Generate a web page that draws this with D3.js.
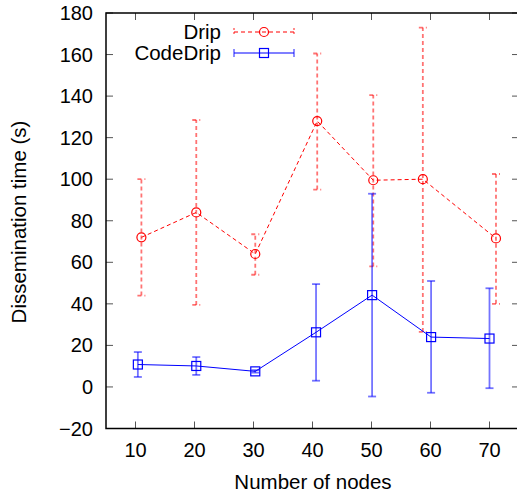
<!DOCTYPE html>
<html>
<head>
<meta charset="utf-8">
<script src="https://cdn.jsdelivr.net/npm/d3@7"></script>
<style>
  body { margin: 0; background: #fff; }
  svg { display: block; font-family: "Liberation Sans", Arial, sans-serif; }
</style>
</head>
<body>
<div id="chart"></div>
<script>
// Values
var seriesNames = ["Drip", "CodeDrip"];
var dripX = [11.0, 20.3, 30.3, 40.8, 50.3, 58.7, 71.1];
var dripY = [72, 84, 64, 128, 99.5, 100, 71.5];
var dripLow = [44, 39.5, 54, 95, 58, 26.5, 40];
var dripHigh = [100, 128.5, 73.5, 160.5, 140.5, 173, 102.5];
var codeX = [10.4, 20.3, 30.3, 40.6, 50.1, 60.1, 70];
var codeY = [10.8, 10.1, 7.5, 26.3, 44.2, 24, 23.3];
var codeLow = [4.8, 5.8, 6.9, 3, -4.6, -2.8, -0.6];
var codeHigh = [16.8, 14.4, 8.1, 49.5, 93, 51, 47.5];
var xTicks = [10, 20, 30, 40, 50, 60, 70];
var yTicks = [-20, 0, 20, 40, 60, 80, 100, 120, 140, 160, 180];

var width = 517, height = 496;
var plotLeft = 106, plotRight = 519, plotTop = 13, plotBottom = 428.5;
var fontSize = 20;

var svg = d3.select("#chart").append("svg")
  .attr("width", width)
  .attr("height", height);

var x = d3.scaleLinear().domain([5, 75]).range([plotLeft, plotRight]);
var y = d3.scaleLinear().domain([-20, 180]).range([plotBottom, plotTop]);

// tick marks on all four sides (pointing inward)
var tickLen = 7;
var ticks = svg.append("g").attr("stroke", "#555").attr("stroke-width", 1);
xTicks.forEach(function (t) {
  ticks.append("line").attr("x1", x(t)).attr("x2", x(t)).attr("y1", plotBottom).attr("y2", plotBottom - tickLen);
  ticks.append("line").attr("x1", x(t)).attr("x2", x(t)).attr("y1", plotTop).attr("y2", plotTop + tickLen);
});
yTicks.forEach(function (t) {
  ticks.append("line").attr("x1", plotLeft).attr("x2", plotLeft + tickLen).attr("y1", y(t)).attr("y2", y(t));
  ticks.append("line").attr("x1", plotRight).attr("x2", plotRight - tickLen).attr("y1", y(t)).attr("y2", y(t));
});

// tick labels
svg.append("g").selectAll("text")
  .data(yTicks)
  .enter().append("text")
  .attr("x", 93)
  .attr("y", function (d) { return y(d); })
  .attr("dy", "0.35em")
  .attr("text-anchor", "end")
  .attr("font-size", fontSize)
  .text(function (d) { return d < 0 ? "\u2212" + Math.abs(d) : d; });

svg.append("g").selectAll("text")
  .data(xTicks)
  .enter().append("text")
  .attr("x", function (d) { return x(d); })
  .attr("y", 450)
  .attr("dy", "0.35em")
  .attr("text-anchor", "middle")
  .attr("font-size", fontSize)
  .text(function (d) { return d; });

// axis titles
svg.append("text")
  .attr("x", 313)
  .attr("y", 482)
  .attr("dy", "0.35em")
  .attr("text-anchor", "middle")
  .attr("font-size", fontSize + 0.5)
  .text("Number of nodes");

svg.append("text")
  .attr("transform", "translate(19,222) rotate(-90)")
  .attr("dy", "0.35em")
  .attr("text-anchor", "middle")
  .attr("font-size", fontSize + 0.5)
  .text("Dissemination time (s)");

// series
var series = [
  { name: seriesNames[0], xs: dripX, ys: dripY, lo: dripLow, hi: dripHigh, color: "#ff0000", dash: "4,3", marker: "circle" },
  { name: seriesNames[1], xs: codeX, ys: codeY, lo: codeLow, hi: codeHigh, color: "#0000ff", dash: null, marker: "square" }
];

var capW = 4;

function drawMarker(g, s, cx, cy) {
  if (s.marker === "circle") {
    g.append("circle").attr("cx", cx).attr("cy", cy).attr("r", 4.5)
      .attr("fill", "none").attr("stroke", s.color).attr("stroke-width", 1.2);
  } else {
    g.append("rect").attr("x", cx - 4.5).attr("y", cy - 4.5).attr("width", 9).attr("height", 9)
      .attr("fill", "none").attr("stroke", s.color).attr("stroke-width", 1.2);
  }
}

series.forEach(function (s) {
  var g = svg.append("g");
  var pts = s.xs.map(function (v, i) { return { x: v, y: s.ys[i], lo: s.lo[i], hi: s.hi[i] }; });

  // error bars
  var eb = g.append("g")
    .attr("stroke", s.color)
    .attr("stroke-width", 1.8)
    .attr("stroke-opacity", 0.55)
    .attr("stroke-dasharray", s.dash);
  pts.forEach(function (p) {
    eb.append("line").attr("x1", x(p.x)).attr("x2", x(p.x)).attr("y1", y(p.lo)).attr("y2", y(p.hi));
    eb.append("line").attr("x1", x(p.x) - capW).attr("x2", x(p.x) + capW).attr("y1", y(p.lo)).attr("y2", y(p.lo));
    eb.append("line").attr("x1", x(p.x) - capW).attr("x2", x(p.x) + capW).attr("y1", y(p.hi)).attr("y2", y(p.hi));
  });

  // connecting line
  var line = d3.line().x(function (d) { return x(d.x); }).y(function (d) { return y(d.y); });
  g.append("path")
    .datum(pts)
    .attr("d", line)
    .attr("fill", "none")
    .attr("stroke", s.color)
    .attr("stroke-width", 1)
    .attr("stroke-dasharray", s.dash);

  pts.forEach(function (p) { drawMarker(g, s, x(p.x), y(p.y)); });
});

// legend
var legendY = [32, 53];
series.forEach(function (s, i) {
  var ly = legendY[i];
  svg.append("text")
    .attr("x", 221)
    .attr("y", ly)
    .attr("dy", "0.35em")
    .attr("text-anchor", "end")
    .attr("font-size", fontSize + 0.5)
    .text(s.name);
  var lg = svg.append("g");
  lg.append("line").attr("x1", 234).attr("x2", 294).attr("y1", ly).attr("y2", ly)
    .attr("stroke", s.color).attr("stroke-width", 1.2).attr("stroke-dasharray", s.dash);
  lg.append("line").attr("x1", 234).attr("x2", 234).attr("y1", ly - capW).attr("y2", ly + capW)
    .attr("stroke", s.color).attr("stroke-width", 1.5).attr("stroke-opacity", 0.6).attr("stroke-dasharray", s.dash ? "2,2" : null);
  lg.append("line").attr("x1", 294).attr("x2", 294).attr("y1", ly - capW).attr("y2", ly + capW)
    .attr("stroke", s.color).attr("stroke-width", 1.5).attr("stroke-opacity", 0.6).attr("stroke-dasharray", s.dash ? "2,2" : null);
  drawMarker(lg, s, 264, ly);
});

// plot border
svg.append("rect")
  .attr("x", plotLeft).attr("y", plotTop)
  .attr("width", plotRight - plotLeft).attr("height", plotBottom - plotTop)
  .attr("fill", "none")
  .attr("stroke", "#000")
  .attr("stroke-width", 1.5);
</script>
</body>
</html>
